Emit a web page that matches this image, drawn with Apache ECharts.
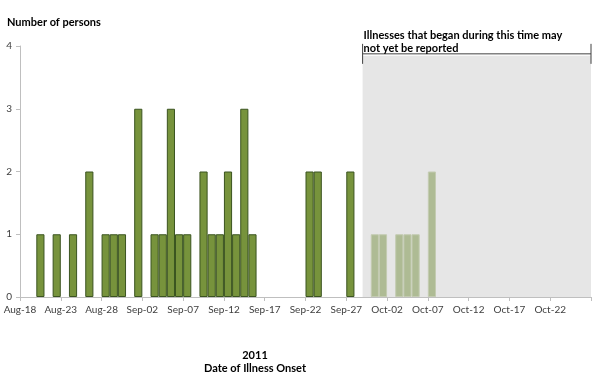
<!DOCTYPE html>
<html><head><meta charset="utf-8">
<script src="https://cdn.jsdelivr.net/npm/echarts@6/dist/echarts.min.js"></script>
<style>html,body{margin:0;padding:0;background:#fff}#c{width:600px;height:384px}</style>
</head><body><div id="c"></div>
<script>
// ---- data ----
const monthNames = ['Aug', 'Sep', 'Oct'];
const monthLengths = [31, 30, 31];
const firstDay = 18; // Aug-18
const tickLabels = ['Aug-18','Aug-23','Aug-28','Sep-02','Sep-07','Sep-12','Sep-17','Sep-22','Sep-27','Oct-02','Oct-07','Oct-12','Oct-17','Oct-22'];
const reportedDates = ['Aug-20','Aug-22','Aug-24','Aug-26','Aug-28','Aug-29','Aug-30','Sep-01','Sep-03','Sep-04','Sep-05','Sep-06','Sep-07','Sep-09','Sep-10','Sep-11','Sep-12','Sep-13','Sep-14','Sep-15','Sep-22','Sep-23','Sep-27'];
const reportedValues = [1,1,1,2,1,1,1,3,1,1,3,1,1,2,1,1,2,1,3,1,2,2,2];
const recentDates = ['Sep-30','Oct-01','Oct-03','Oct-04','Oct-05','Oct-07'];
const recentValues = [1,1,1,1,1,2];
const lagStart = 'Sep-29';
const lagEnd = 'Oct-27';
const bracketLevel = 3.875;
const yTicks = [0, 1, 2, 3, 4];

function buildDays(n) {
  const out = [];
  let m = 0, d = firstDay;
  for (let i = 0; i < n; i++) {
    out.push(monthNames[m] + '-' + String(d).padStart(2, '0'));
    d++;
    if (d > monthLengths[m]) { d = 1; m++; }
  }
  return out;
}
const dayCategories = buildDays(70);   // one band per day (bars)
const tickCategories = buildDays(71);  // day boundaries (labels/ticks)

const reportedStyle = { color: '#77933c', borderColor: '#3b5420', borderWidth: 1 };
const recentStyle = { color: '#aebb94', borderColor: '#c3cbb1', borderWidth: 1 };
const barData = reportedDates.map((d, i) => ({ value: [d, reportedValues[i]], itemStyle: reportedStyle }))
  .concat(recentDates.map((d, i) => ({ value: [d, recentValues[i]], itemStyle: recentStyle })));

const FONT = 'Lato';
const chart = echarts.init(document.getElementById('c'));
chart.setOption({
  animation: false,
  textStyle: { fontFamily: FONT },
  grid: { left: 20, right: 9, top: 46, bottom: 87, containLabel: false, outerBoundsMode: 'none' },
  xAxis: [{
    type: 'category', data: dayCategories, boundaryGap: true,
    axisLine: { show: false }, axisTick: { show: false }, axisLabel: { show: false }
  }, {
    type: 'category', data: tickCategories, boundaryGap: false, position: 'bottom',
    axisLine: { show: true, lineStyle: { color: '#bfbfbf', width: 1 } },
    axisTick: { show: true, interval: 4, length: 4, lineStyle: { color: '#bfbfbf' } },
    axisLabel: { interval: 4, color: '#404040', fontSize: 10, fontFamily: FONT, margin: 8,
      formatter: v => tickLabels.includes(v) ? v : '' },
    splitLine: { show: false }
  }],
  yAxis: {
    type: 'value', min: yTicks[0], max: yTicks[yTicks.length - 1], interval: 1,
    axisLine: { show: true, lineStyle: { color: '#bfbfbf' } },
    axisTick: { show: true, length: 4, lineStyle: { color: '#bfbfbf' } },
    axisLabel: { color: '#404040', fontSize: 10, fontFamily: FONT, margin: 8 },
    splitLine: { show: false }
  },
  series: [{
    type: 'bar', xAxisIndex: 0, barCategoryGap: '0%',
    data: barData
  }]
});

const x0 = chart.convertToPixel({ xAxisIndex: 1 }, lagStart);
const x1 = chart.convertToPixel({ xAxisIndex: 1 }, lagEnd);
const yB = chart.convertToPixel({ yAxisIndex: 0 }, bracketLevel);
const yZ = chart.convertToPixel({ yAxisIndex: 0 }, 0);
chart.setOption({
  graphic: [
    { type: 'rect', z: -10, shape: { x: x0, y: yB + 2, width: x1 - x0, height: yZ - yB - 2 },
      style: { fill: '#e6e6e6' }, silent: true },
    { type: 'polyline', z: 10, shape: { points: [[x0, yB - 10], [x0, yB + 10]] }, style: { stroke: '#404040', lineWidth: 1 } },
    { type: 'polyline', z: 10, shape: { points: [[x1, yB - 10], [x1, yB + 10]] }, style: { stroke: '#404040', lineWidth: 1 } },
    { type: 'polyline', z: 10, shape: { points: [[x0, yB], [x1, yB]] }, style: { stroke: '#404040', lineWidth: 1 } },
    { type: 'text', z: 10, x: x0 + 1, y: 29, style: { text: 'Illnesses that began during this time may\nnot yet be reported',
      font: 'bold 11px ' + FONT, fill: '#000', lineHeight: 13 } },
    { type: 'text', x: 7, y: 17, style: { text: 'Number of persons', font: 'bold 11px ' + FONT, fill: '#000' } },
    { type: 'text', x: 255, y: 355, style: { text: '2011', font: 'bold 11px ' + FONT, fill: '#000', align: 'center', verticalAlign: 'middle' } },
    { type: 'text', x: 255, y: 368, style: { text: 'Date of Illness Onset', font: 'bold 11px ' + FONT, fill: '#000', align: 'center', verticalAlign: 'middle' } }
  ]
});
</script></body></html>
